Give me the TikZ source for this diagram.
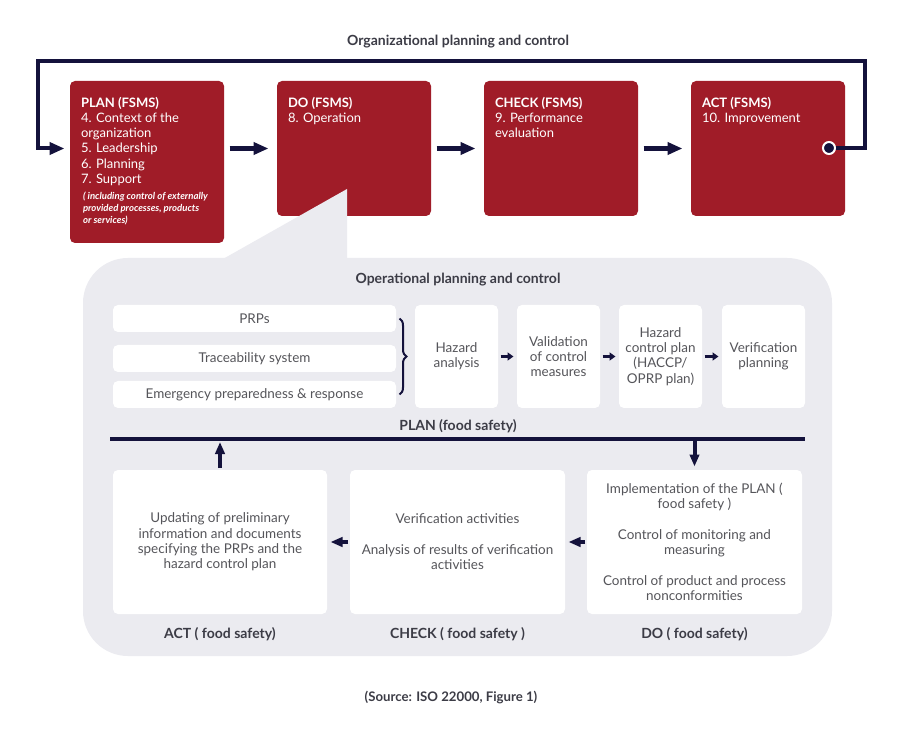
\documentclass[tikz,border=0pt]{standalone}
\usepackage{fontspec}
\setmainfont{Lato}
\usetikzlibrary{arrows.meta,positioning,decorations.pathreplacing}

\definecolor{navy}{RGB}{20,18,60}
\definecolor{fsmsred}{RGB}{160,28,40}
\definecolor{panelgray}{RGB}{235,235,240}
\definecolor{txtgray}{RGB}{85,85,90}
\definecolor{lblgray}{RGB}{60,60,70}

\tikzset{every picture/.style={line width=0.75pt}}
\tikzset{
  boxsize/.style 2 args={minimum width=#1*0.75pt, minimum height=#2*0.75pt},
  redbox/.style={fill=fsmsred, draw=none, rounded corners=3.75pt, inner sep=0pt},
  whitebox/.style={fill=white, draw=none, rounded corners=3.75pt, inner sep=0pt, text=txtgray, align=center, font=\fontsize{10.1}{11.5}\selectfont},
  panel/.style={fill=panelgray, draw=none, rounded corners=33.75pt, inner sep=0pt},
  boxtxt/.style={text=white, align=left, anchor=north west, inner sep=0pt, font=\fontsize{9.75}{11.4}\selectfont},
  notetxt/.style={text=white, align=left, anchor=north west, inner sep=0pt, font=\fontsize{7.2}{9}\selectfont\bfseries\itshape},
  lbl/.style={text=lblgray, inner sep=0.75pt, font=\fontsize{10.5}{12}\selectfont\bfseries},
  dotnode/.style={circle, fill=navy, draw=white, line width=1.5pt, minimum size=9pt, inner sep=0pt},
  loopline/.style={navy, line width=3pt, -{Triangle[length=11.25pt,width=9pt]}, shorten >=3.75pt},
  bigarrow/.style={navy, line width=3.5pt, -{Triangle[length=11.25pt,width=9pt]}, shorten <=3.75pt, shorten >=6pt},
  midarrow/.style={navy, line width=3pt, -{Triangle[length=9pt,width=7pt]}, shorten <=1pt, shorten >=2.25pt},
  smallarrow/.style={navy, line width=2.25pt, -{Triangle[length=4.5pt,width=6pt]}, shorten <=1.5pt, shorten >=2.25pt},
  bracestyle/.style={navy, line width=1.5pt, decorate, decoration={brace, amplitude=5.25pt}},
  bar/.style={navy, line width=3pt}
}

\begin{document}
\begin{tikzpicture}[x=0.75pt,y=0.75pt,yscale=-1,xscale=1]
\useasboundingbox[fill=white] (0,0) rectangle (901,731);

% Text Node
\node[lbl] (orgtitle) at (458,42) {Organizational planning and control};

%Shape: Rectangle FSMS row
\node[redbox, boxsize={154}{162}] (planfsms) at (147,162) {};
\node[redbox, boxsize={154}{135}] (dofsms) at (354,148.5) {};
\node[redbox, boxsize={154}{135}] (checkfsms) at (561,148.5) {};
\node[redbox, boxsize={154}{135}] (actfsms) at (768,148.5) {};

% Text Node (yshift is flipped by yscale=-1)
\node[boxtxt] (plantxt) at ([xshift=8.25pt,yshift=12pt]planfsms.north west) {\textbf{PLAN (FSMS)}\\4. Context of the\\organization\\5. Leadership\\6. Planning\\7. Support};
\node[notetxt] (plannote) at ([xshift=1.5pt,yshift=4.5pt]plantxt.south west) {( including control of externally\\provided processes, products\\or services)};
\node[boxtxt] (dotxt) at ([xshift=8.25pt,yshift=12pt]dofsms.north west) {\textbf{DO (FSMS)}\\8. Operation};
\node[boxtxt] (checktxt) at ([xshift=8.25pt,yshift=12pt]checkfsms.north west) {\textbf{CHECK (FSMS)}\\9. Performance\\evaluation};
\node[boxtxt] (acttxt) at ([xshift=8.25pt,yshift=12pt]actfsms.north west) {\textbf{ACT (FSMS)}\\10. Improvement};

%Straight Lines
\draw[bigarrow] (planfsms.east |- dofsms.west) -- (dofsms.west);
\draw[bigarrow] (dofsms.east) -- (checkfsms.west);
\draw[bigarrow] (checkfsms.east) -- (actfsms.west);

%Shape: Circle
\node[dotnode] (actdot) at (829,148) {};
\coordinate (loopNE) at (865,61);
\coordinate (loopNW) at (38,61);
\draw[loopline] (actdot) -| (loopNE) -- (loopNW) |- (planfsms.west |- dofsms.west);

%Shape: Rectangle operational panel
\node[panel, boxsize={749}{398}] (oppanel) at (457.5,457) {};
\fill[panelgray] (223,259) -- (347,189) -- (347,270) -- (223,270) -- cycle;

% Text Node
\node[lbl] (optitle) at (458,280) {Operational planning and control};

%Shape: Rectangle PLAN (food safety)
\node[whitebox, boxsize={283}{27}] (prps) at (254.5,318.5) {PRPs};
\node[whitebox, boxsize={283}{27}] (trace) at (254.5,358.5) {Traceability system};
\node[whitebox, boxsize={283}{27}] (emerg) at (254.5,394.5) {Emergency preparedness \& response};
\node[whitebox, boxsize={83}{103}] (hazan) at (456.5,356.5) {Hazard\\analysis};
\node[whitebox, boxsize={83}{103}, right=13.5pt of hazan] (valid) {Validation\\of control\\measures};
\node[whitebox, boxsize={83}{103}, right=13.5pt of valid] (hcp) {Hazard\\control plan\\(HACCP/\\OPRP plan)};
\node[whitebox, boxsize={83}{103}, right=14.25pt of hcp] (verplan) {Verification\\planning};

\draw[bracestyle] ([xshift=2.25pt]prps.east) -- ([xshift=2.25pt]emerg.east);
\draw[smallarrow] (hazan) -- (valid);
\draw[smallarrow] (valid) -- (hcp);
\draw[smallarrow] (hcp) -- (verplan);

% Text Node
\node[lbl] (planlbl) at (458,426) {PLAN (food safety)};

%Straight Lines
\coordinate (barW) at (110,439);
\coordinate (barE) at (805,439);
\draw[bar] (barW) -- (barE);

%Shape: Rectangle DO / CHECK / ACT (food safety)
\node[whitebox, boxsize={214}{144}] (actfs) at (220,542) {Updating of preliminary\\information and documents\\specifying the PRPs and the\\hazard control plan};
\node[whitebox, boxsize={215}{144}] (checkfs) at (457.5,542) {Verification activities\\[11.5pt]Analysis of results of verification\\activities};
\node[whitebox, boxsize={215}{144}] (dofs) at (694.5,542) {Implementation of the PLAN (\\food safety )\\[11.5pt]Control of monitoring and\\measuring\\[11.5pt]Control of product and process\\nonconformities};

\draw[midarrow] (actfs.north) -- (actfs.north |- barW);
\draw[midarrow] (dofs.north |- barE) -- (dofs.north);
\draw[midarrow] (checkfs.west) -- (actfs.east);
\draw[midarrow] (dofs.west) -- (checkfs.east);

% Text Node
\node[lbl, below=9pt of actfs] (actlbl) {ACT ( food safety)};
\node[lbl, below=9pt of checkfs] (checklbl) {CHECK ( food safety )};
\node[lbl, below=9pt of dofs] (dolbl) {DO ( food safety)};
\node[lbl, font=\fontsize{9.9}{12}\selectfont\bfseries] (source) at (451,698) {(Source: ISO 22000, Figure 1)};

\end{tikzpicture}
\end{document}
